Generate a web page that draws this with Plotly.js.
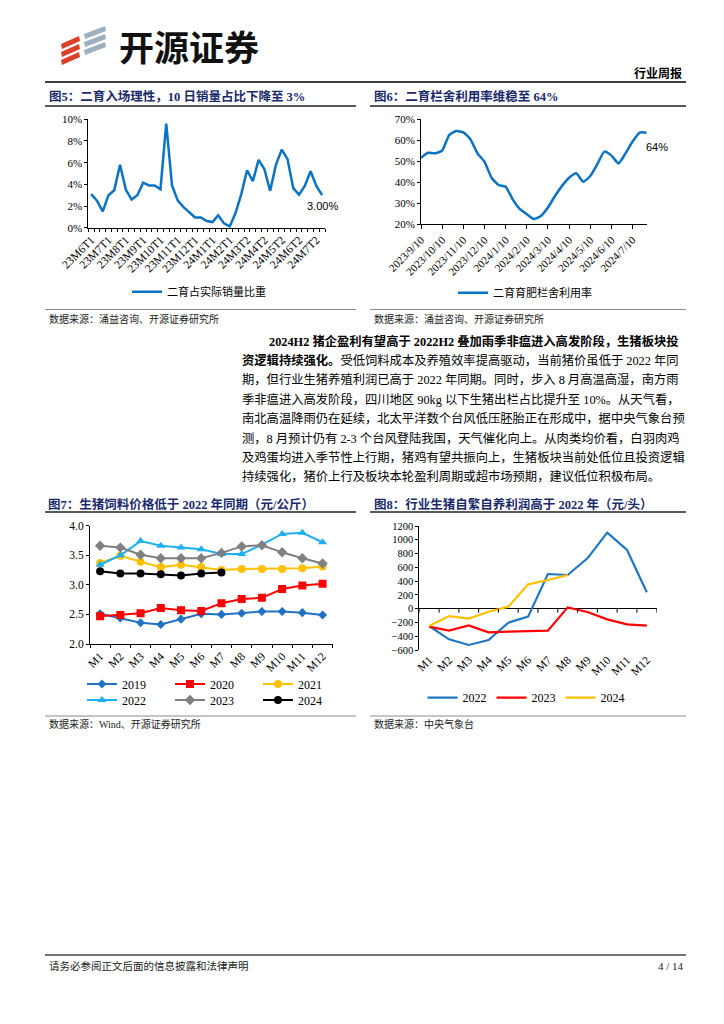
<!DOCTYPE html>
<html><head><meta charset="utf-8">
<script src="https://cdn.plot.ly/plotly-3.0.1.min.js"></script>
<style>html,body{margin:0;padding:0;background:#fff;}#chart{width:724px;height:1024px;}</style>
</head><body><div id="chart"></div>
<script>
// ---------- DATA ----------
const cats5 = ['23M6T1','23M6T2','23M6T3','23M7T1','23M7T2','23M7T3','23M8T1','23M8T2','23M8T3',
  '23M9T1','23M9T2','23M9T3','23M10T1','23M10T2','23M10T3','23M11T1','23M11T2','23M11T3',
  '23M12T1','23M12T2','23M12T3','24M1T1','24M1T2','24M1T3','24M2T1','24M2T2','24M3T1',
  '24M3T2','24M3T3','24M4T1','24M4T2','24M4T3','24M5T1','24M5T2','24M5T3','24M6T1',
  '24M6T2','24M6T3','24M7T1','24M7T2','24M7T3'];
const share5 = [3.1,2.5,1.5,3.0,3.45,5.8,3.5,2.6,3.0,4.15,
  3.9,3.9,3.55,9.6,3.9,2.5,1.9,1.45,0.95,0.95,
  0.62,0.52,1.15,0.4,0.12,1.35,3.1,5.3,4.3,6.25,
  5.4,3.4,5.8,7.2,6.35,3.65,3.05,3.85,5.2,3.85,3.0];
const cats6 = ['2023/9/10','2023/9/20','2023/9/30','2023/10/10','2023/10/20','2023/10/30',
  '2023/11/10','2023/11/20','2023/11/30','2023/12/10','2023/12/20','2023/12/30',
  '2024/1/10','2024/1/20','2024/1/30','2024/2/10','2024/2/20','2024/2/29',
  '2024/3/10','2024/3/20','2024/3/30','2024/4/10','2024/4/20','2024/4/30',
  '2024/5/10','2024/5/20','2024/5/30','2024/6/10','2024/6/20','2024/6/30',
  '2024/7/10','2024/7/20','2024/7/30'];
const util6 = [51.7,54.1,53.8,55.1,62.5,64.4,63.8,60.5,53.8,49.8,
  42.2,38.7,37.9,31.9,27.3,24.8,22.5,24.0,28.0,33.5,
  38.3,42.2,44.3,40.3,43.0,48.7,54.6,52.7,49.0,53.8,
  59.4,63.7,63.6];
const months = ['M1','M2','M3','M4','M5','M6','M7','M8','M9','M10','M11','M12'];
const feed2019 = [2.51,2.44,2.36,2.33,2.42,2.51,2.50,2.52,2.55,2.55,2.53,2.49];
const feed2020 = [2.47,2.49,2.52,2.61,2.57,2.56,2.69,2.76,2.78,2.93,2.99,3.02];
const feed2021 = [3.37,3.49,3.39,3.30,3.34,3.30,3.25,3.27,3.27,3.27,3.28,3.31];
const feed2022 = [3.34,3.50,3.74,3.66,3.63,3.60,3.52,3.52,3.68,3.86,3.88,3.72];
const feed2023 = [3.66,3.63,3.51,3.45,3.45,3.45,3.54,3.65,3.67,3.55,3.45,3.36];
const feed2024 = [3.23,3.19,3.19,3.18,3.16,3.19,3.21];
const profit2022 = [-252,-445,-527,-455,-203,-116,503,489,731,1103,852,237];
const profit2023 = [-261,-319,-242,-344,-334,-324,-319,19,-48,-155,-227,-247];
const profit2024 = [-252,-107,-145,-44,29,353,416,489];

// ---------- HELPERS ----------
const W = 724, H = 1024;
const px = x => x / W;
const py = y => 1 - y / H;
const SERIF = 'Liberation Serif, Noto Sans CJK SC';
const CJK = 'Liberation Serif, Noto Sans CJK SC';
const NAVY = '#1B2A6B';
const BLUE = '#0B72C4';

const traces = [];
traces.push({x: cats5, y: share5, xaxis: 'x', yaxis: 'y', mode: 'lines', name: '二育占实际销量比重',
  line: {color: BLUE, width: 2.5}, legend: 'legend', showlegend: true});
traces.push({x: cats6, y: util6, xaxis: 'x2', yaxis: 'y2', mode: 'lines', name: '二育育肥栏舍利用率',
  line: {color: BLUE, width: 2.5, shape: 'spline', smoothing: 0.5}, legend: 'legend2', showlegend: true});

const feedSeries = [
  ['2019', feed2019, '#2272C3', 'diamond', 7, 'legend3'],
  ['2020', feed2020, '#FF0000', 'square', 8, 'legend3'],
  ['2021', feed2021, '#FFC000', 'circle', 8, 'legend3'],
  ['2022', feed2022, '#1EB0F0', 'triangle-up', 8, 'legend4'],
  ['2023', feed2023, '#808080', 'diamond', 8, 'legend4'],
  ['2024', feed2024, '#000000', 'circle', 8, 'legend4']
];
feedSeries.forEach(s => traces.push({
  x: months.slice(0, s[1].length), y: s[1], xaxis: 'x3', yaxis: 'y3', mode: 'lines+markers', name: s[0],
  line: {color: s[2], width: 2}, marker: {color: s[2], symbol: s[3], size: s[4]}, legend: s[5], showlegend: true
}));

const profitSeries = [['2022', profit2022, '#1F77C4'], ['2023', profit2023, '#FF0000'], ['2024', profit2024, '#FFC000']];
profitSeries.forEach(s => traces.push({
  x: months.slice(0, s[1].length), y: s[1], xaxis: 'x4', yaxis: 'y4', mode: 'lines', name: s[0],
  line: {color: s[2], width: 2.2}, legend: 'legend5', showlegend: true
}));

// ---------- AXES ----------
const axBase = {showline: true, linecolor: '#000', linewidth: 1, showgrid: false, zeroline: false,
  ticks: 'outside', ticklen: 3, tickcolor: '#000', tickfont: {family: SERIF, size: 11, color: '#000'}};

const layout = {
  width: W, height: H, margin: {l: 0, r: 0, t: 0, b: 0},
  paper_bgcolor: '#fff', plot_bgcolor: 'rgba(0,0,0,0)',
  font: {family: SERIF, color: '#000'},
  showlegend: true,
  xaxis: Object.assign({}, axBase, {domain: [px(88.3), px(325)], anchor: 'y', type: 'category',
    range: [-0.5, cats5.length - 0.5], tickmode: 'array', tickvals: cats5,
    ticktext: cats5.map((c, i) => i % 3 === 0 ? c : ''), tickson: 'boundaries', tickangle: -45,
    tickfont: {family: SERIF, size: 11.5, color: '#000'}}),
  yaxis: Object.assign({}, axBase, {domain: [py(227.7), py(119.3)], anchor: 'x', range: [0, 10], dtick: 2,
    ticksuffix: '%'}),
  xaxis2: Object.assign({}, axBase, {domain: [px(421), px(646.7)], anchor: 'y2', type: 'category',
    range: [0, cats6.length - 1], tickmode: 'array', tickvals: cats6.filter((c, i) => i % 3 === 0),
    tickangle: -45, ticklen: 4}),
  yaxis2: Object.assign({}, axBase, {domain: [py(224.3), py(119.3)], anchor: 'x2', range: [20, 70], dtick: 10,
    ticksuffix: '%'}),
  xaxis3: Object.assign({}, axBase, {domain: [px(90), px(332.7)], anchor: 'y3', type: 'category',
    range: [-0.5, 11.5], tickmode: 'array', tickvals: months, tickson: 'boundaries', tickangle: -45,
    tickfont: {family: SERIF, size: 11.5, color: '#000'}}),
  yaxis3: Object.assign({}, axBase, {domain: [py(644), py(525.7)], anchor: 'x3', range: [2, 4], dtick: 0.5,
    tickformat: '.1f', tickfont: {family: SERIF, size: 11.5, color: '#000'}}),
  xaxis4: Object.assign({}, axBase, {domain: [px(419.3), px(656.7)], anchor: 'y4', type: 'category',
    range: [-0.5, 11.5], tickmode: 'array', tickvals: months, showline: false, ticks: '', tickangle: -45,
    tickfont: {family: SERIF, size: 11.5, color: '#000'}}),
  yaxis4: Object.assign({}, axBase, {domain: [py(650), py(526)], anchor: 'x4', range: [-600, 1200], dtick: 200,
    zeroline: true, zerolinecolor: '#000', zerolinewidth: 1, tickfont: {family: SERIF, size: 10.5, color: '#000'}}),
  legend: {x: px(127), y: py(291.7), xanchor: 'left', yanchor: 'middle', orientation: 'h',
    bgcolor: 'rgba(0,0,0,0)', font: {family: CJK, size: 11, color: '#000'}},
  legend2: {x: px(453), y: py(292.7), xanchor: 'left', yanchor: 'middle', orientation: 'h',
    bgcolor: 'rgba(0,0,0,0)', font: {family: CJK, size: 11, color: '#000'}},
  legend3: {x: px(82), y: py(684), xanchor: 'left', yanchor: 'middle', orientation: 'h',
    entrywidth: 43, bgcolor: 'rgba(0,0,0,0)', font: {family: SERIF, size: 12, color: '#000'}},
  legend4: {x: px(82), y: py(700), xanchor: 'left', yanchor: 'middle', orientation: 'h',
    entrywidth: 43, bgcolor: 'rgba(0,0,0,0)', font: {family: SERIF, size: 12, color: '#000'}},
  legend5: {x: px(526), y: py(697.7), xanchor: 'center', yanchor: 'middle', orientation: 'h',
    bgcolor: 'rgba(0,0,0,0)', font: {family: SERIF, size: 12, color: '#000'}},
  shapes: [],
  annotations: []
};

// tick marks on the zero line of chart 8 (category boundaries)
for (let i = 0; i <= months.length; i++) {
  layout.shapes.push({type: 'line', xref: 'x4', yref: 'y4', x0: i - 0.5, x1: i - 0.5,
    ysizemode: 'pixel', yanchor: 0, y0: 0, y1: -4, line: {color: '#000', width: 1}});
}

// page rules
function hline(y, x0, x1, color, width) {
  layout.shapes.push({type: 'line', xref: 'paper', yref: 'paper', x0: px(x0), x1: px(x1), y0: py(y), y1: py(y),
    line: {color: color, width: width}});
}
hline(82, 45, 686, '#000', 1.6);
hline(106, 45, 356, '#222', 1.3); hline(106, 370, 686, '#222', 1.3);
hline(309.5, 45, 356, '#8C8C8C', 1.2); hline(309.5, 370, 686, '#8C8C8C', 1.2);
hline(512, 45, 356, '#222', 1.3); hline(512, 370, 686, '#222', 1.3);
hline(716, 45, 356, '#8C8C8C', 1.2); hline(716, 370, 686, '#8C8C8C', 1.2);
hline(955, 45, 686, '#444', 1.6);

// logo marks
function pathPx(pts) {
  return 'M' + pts.map(p => px(p[0]).toFixed(5) + ',' + py(p[1]).toFixed(5)).join('L') + 'Z';
}
for (let k = 0; k < 3; k++) {
  layout.shapes.push({type: 'path', xref: 'paper', yref: 'paper', line: {width: 0}, fillcolor: '#D9402B',
    path: pathPx([[61, 44 + k * 8], [79, 36 + k * 8], [80, 41 + k * 8], [62, 49 + k * 8]])});
  layout.shapes.push({type: 'path', xref: 'paper', yref: 'paper', line: {width: 0}, fillcolor: '#9BB0C0',
    path: pathPx([[84, 34 + k * 8], [105, 26 + k * 8], [106, 31 + k * 8], [85, 39 + k * 8]])});
}

// texts
function txt(x, y, text, size, opts) {
  opts = opts || {};
  layout.annotations.push({xref: 'paper', yref: 'paper', x: px(x), y: py(y), text: text, showarrow: false,
    xanchor: opts.anchor || 'left', yanchor: 'middle',
    font: {family: opts.family || CJK, size: size, color: opts.color || '#000'}});
}
txt(117, 45, '<b>开源证券</b>', 35, {family: 'Noto Sans CJK SC', color: '#111'});
txt(684, 73, '<b>行业周报</b>', 12, {anchor: 'right'});
txt(47, 96, '<b>图5：二育入场理性，10 日销量占比下降至 3%</b>', 12.5, {color: NAVY});
txt(372, 96, '<b>图6：二育栏舍利用率维稳至 64%</b>', 12.5, {color: NAVY});
txt(46, 504, '<b>图7：生猪饲料价格低于 2022 年同期（元/公斤）</b>', 12.5, {color: NAVY});
txt(372, 504, '<b>图8：行业生猪自繁自养利润高于 2022 年（元/头）</b>', 12.5, {color: NAVY});
txt(47, 318.5, '数据来源：涌益咨询、开源证券研究所', 10, {color: '#222'});
txt(372, 318.5, '数据来源：涌益咨询、开源证券研究所', 10, {color: '#222'});
txt(47, 724, '数据来源：Wind、开源证券研究所', 10, {color: '#222'});
txt(372, 724, '数据来源：中央气象台', 10, {color: '#222'});

const body = [
  [267, '<b>2024H2 猪企盈利有望高于 2022H2 叠加雨季非瘟进入高发阶段，生猪板块投</b>'],
  [240, '<b>资逻辑持续强化。</b>受低饲料成本及养殖效率提高驱动，当前猪价虽低于 2022 年同'],
  [240, '期，但行业生猪养殖利润已高于 2022 年同期。同时，步入 8 月高温高湿，南方雨'],
  [240, '季非瘟进入高发阶段，四川地区 90kg 以下生猪出栏占比提升至 10%。从天气看，'],
  [240, '南北高温降雨仍在延续，北太平洋数个台风低压胚胎正在形成中，据中央气象台预'],
  [240, '测，8 月预计仍有 2-3 个台风登陆我国，天气催化向上。从肉类均价看，白羽肉鸡'],
  [240, '及鸡蛋均进入季节性上行期，猪鸡有望共振向上，生猪板块当前处低位且投资逻辑'],
  [240, '持续强化，猪价上行及板块本轮盈利周期或超市场预期，建议低位积极布局。']
];
body.forEach((b, i) => txt(b[0], 341 + i * 19.4, b[1], 12.3));

txt(47, 966, '请务必参阅正文后面的信息披露和法律声明', 10.5, {color: '#222'});
txt(686, 966, '4 / 14', 11, {anchor: 'right', family: SERIF, color: '#222'});

// data labels
const n5 = share5.length - 1, n6 = util6.length - 1;
layout.annotations.push({xref: 'x', yref: 'y', x: cats5[n5], y: share5[n5], text: share5[n5].toFixed(2) + '%',
  showarrow: false, xanchor: 'center', yanchor: 'top', yshift: -3,
  font: {family: 'Liberation Sans', size: 11, color: '#000'}});
layout.annotations.push({xref: 'x2', yref: 'y2', x: cats6[n6], y: util6[n6], text: Math.round(util6[n6]) + '%',
  showarrow: false, xanchor: 'left', yanchor: 'middle', xshift: -3, yshift: -14,
  font: {family: 'Liberation Sans', size: 11, color: '#000'}});

Plotly.newPlot('chart', traces, layout, {staticPlot: true, displayModeBar: false});
</script>
</body></html>
